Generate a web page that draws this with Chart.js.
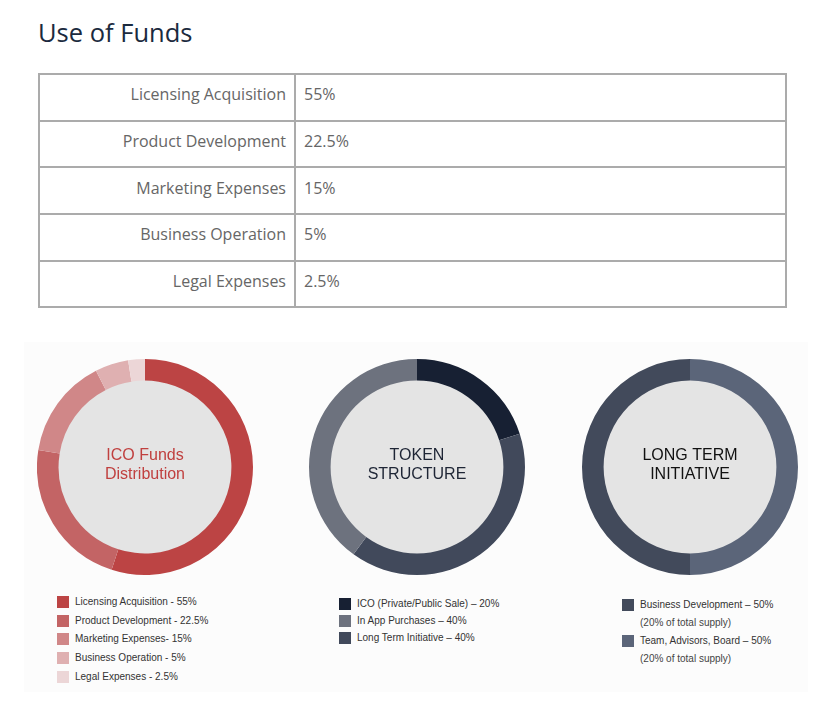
<!DOCTYPE html>
<html>
<head>
<meta charset="utf-8">
<script src="https://cdn.jsdelivr.net/npm/chart.js@4/dist/chart.umd.min.js"></script>
<style>
  body { margin: 0; width: 834px; height: 725px; background: #fff; position: relative; overflow: hidden; }
  h1 { position: absolute; left: 38px; top: 15px; margin: 0; font: 400 25.5px "Open Sans", sans-serif; color: #1b2a3e; }
  table { position: absolute; left: 38px; top: 73px; width: 749px; border-collapse: collapse; font: 400 16px "Open Sans", sans-serif; color: #666; }
  td { border: 2px solid #ababab; height: 38.7px; padding: 0 0 6px 0; }
  td.lbl { text-align: right; padding-right: 8px; width: 246px; }
  td.val { padding-left: 8px; }
  #panel { position: absolute; left: 24px; top: 342px; width: 784px; height: 350px; background: #fcfcfc; }
  canvas { position: absolute; }
  .legend { position: absolute; font: 10px "Liberation Sans", Arial, sans-serif; color: #333; }
  .legend div { position: relative; height: 18.7px; line-height: 12px; padding-left: 18px; }
  .legend span.sw { position: absolute; left: 0; top: 0; width: 12px; height: 12px; }
  .legend div.sub { padding-left: 18px; color: #444; }
</style>
</head>
<body>
<h1>Use of Funds</h1>
<table id="tbl"></table>
<div id="panel"></div>
<canvas id="c1" width="216" height="216" style="left:37px;top:359px"></canvas>
<canvas id="c2" width="216" height="216" style="left:309px;top:359px"></canvas>
<canvas id="c3" width="216" height="216" style="left:582px;top:359px"></canvas>
<div class="legend" id="lg1" style="left:57px;top:596px"></div>
<div class="legend" id="lg2" style="left:339px;top:598px"></div>
<div class="legend" id="lg3" style="left:622px;top:599px"></div>
<script>
// table
const fundLabels = ['Licensing Acquisition', 'Product Development', 'Marketing Expenses', 'Business Operation', 'Legal Expenses'];
const fundValues = [55, 22.5, 15, 5, 2.5];

// donut 1
const icoLabels = ['Licensing Acquisition - 55%', 'Product Development - 22.5%', 'Marketing Expenses- 15%', 'Business Operation - 5%', 'Legal Expenses - 2.5%'];
const icoValues = [55, 22.5, 15, 5, 2.5];
const icoColors = ['#bc4444', '#c36465', '#d08788', '#dfb0b1', '#ecd6d7'];

// donut 2 (drawn clockwise: ICO, Long Term, In App)
const tokenLabels = ['ICO (Private/Public Sale) \u2013 20%', 'Long Term Initiative \u2013 40%', 'In App Purchases \u2013 40%'];
const tokenValues = [20, 40, 40];
const tokenColors = ['#172033', '#41495b', '#6d727e'];
const tokenLegendOrder = [0, 2, 1];

// donut 3 (drawn clockwise: Team, Business Development)
const longLabels = ['Team, Advisors, Board \u2013 50%', 'Business Development \u2013 50%'];
const longNotes = ['(20% of total supply)', '(20% of total supply)'];
const longValues = [50, 50];
const longColors = ['#5b6579', '#424a5b'];
const longLegendOrder = [1, 0];

const tbl = document.getElementById('tbl');
fundLabels.forEach((l, i) => {
  const tr = document.createElement('tr');
  tr.innerHTML = '<td class="lbl">' + l + '</td><td class="val">' + fundValues[i] + '%</td>';
  tbl.appendChild(tr);
});

// fills the hole and writes the title in it
const centerPlugin = {
  id: 'center',
  beforeDatasetsDraw(chart, args, opts) {
    const arc = chart.getDatasetMeta(0).data[0];
    const ctx = chart.ctx;
    ctx.save();
    ctx.beginPath();
    ctx.arc(arc.x, arc.y, arc.innerRadius + 1, 0, Math.PI * 2);
    ctx.fillStyle = '#e4e4e4';
    ctx.fill();
    ctx.restore();
  },
  afterDatasetsDraw(chart, args, opts) {
    const arc = chart.getDatasetMeta(0).data[0];
    const ctx = chart.ctx;
    ctx.save();
    ctx.font = '16px "Liberation Sans", Arial, sans-serif';
    ctx.fillStyle = opts.color;
    ctx.textAlign = 'center';
    ctx.textBaseline = 'middle';
    const lh = 18.5;
    const y0 = arc.y - 2 - (opts.lines.length - 1) * lh / 2;
    opts.lines.forEach((t, i) => ctx.fillText(t, arc.x, y0 + i * lh));
    ctx.restore();
  }
};

function donut(id, labels, values, colors, lines, color) {
  new Chart(document.getElementById(id), {
    type: 'doughnut',
    data: {
      labels: labels,
      datasets: [{ data: values, backgroundColor: colors, borderWidth: 0 }]
    },
    options: {
      responsive: false,
      animation: false,
      cutout: '80%',
      layout: { padding: 0 },
      plugins: {
        legend: { display: false },
        tooltip: { enabled: false },
        center: { lines: lines, color: color }
      }
    },
    plugins: [centerPlugin]
  });
}

donut('c1', icoLabels, icoValues, icoColors, ['ICO Funds', 'Distribution'], '#c0403f');
donut('c2', tokenLabels, tokenValues, tokenColors, ['TOKEN', 'STRUCTURE'], '#1e2535');
donut('c3', longLabels, longValues, longColors, ['LONG TERM', 'INITIATIVE'], '#111111');

function legend(id, labels, colors, order, notes, rowH) {
  const el = document.getElementById(id);
  order.forEach(i => {
    const d = document.createElement('div');
    d.style.height = rowH + 'px';
    d.innerHTML = '<span class="sw" style="background:' + colors[i] + '"></span>' + labels[i];
    el.appendChild(d);
    if (notes) {
      const n = document.createElement('div');
      n.className = 'sub';
      n.style.height = rowH + 'px';
      n.textContent = notes[i];
      el.appendChild(n);
    }
  });
}
legend('lg1', icoLabels, icoColors, [0, 1, 2, 3, 4], null, 18.7);
legend('lg2', tokenLabels, tokenColors, tokenLegendOrder, null, 17);
legend('lg3', longLabels, longColors, longLegendOrder, longNotes, 18);
</script>
</body>
</html>
